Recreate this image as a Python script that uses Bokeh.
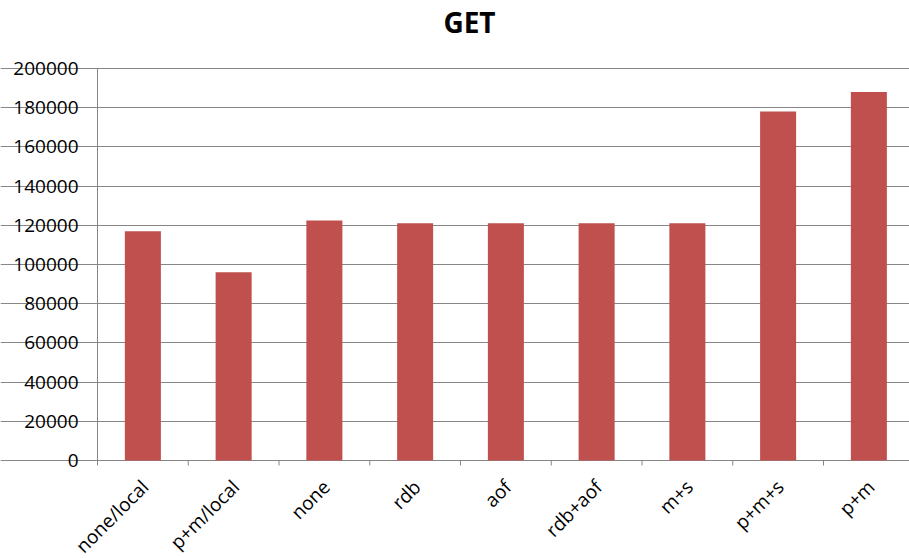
import math
from bokeh.plotting import figure
from bokeh.models import Range1d, FixedTicker, ColumnDataSource, Grid
from bokeh.embed import file_html
from bokeh.resources import INLINE

# GET throughput per persistence / replication setup
categories = ["none/local", "p+m/local", "none", "rdb", "aof", "rdb+aof", "m+s", "p+m+s", "p+m"]
get_values = [117000, 96000, 122500, 121000, 121000, 121000, 121000, 178000, 188000]
y_ticks = [0, 20000, 40000, 60000, 80000, 100000, 120000, 140000, 160000, 180000, 200000]
y_tick_labels = [str(v) for v in y_ticks]

FONT = "Open Sans"
BAR_COLOR = "#C0504D"
AXIS_COLOR = "#868686"

# page layout in pixels: the value area spans these edges, the rest holds text
W, H = 909, 558
AREA_LEFT, AREA_TOP, AREA_BOTTOM = 97, 68, 460
CAT_PX = 90.75                      # width of one category slot
Y_MAX = y_ticks[-1]
UNITS_PER_PX = Y_MAX / (AREA_BOTTOM - AREA_TOP)


def px_to_x(px):
    return (px - AREA_LEFT) / CAT_PX


def px_to_y(py):
    return (AREA_BOTTOM - py) * UNITS_PER_PX


centers = [i + 0.5 for i in range(len(categories))]
bounds = list(range(len(categories) + 1))
bars = ColumnDataSource(dict(x=centers, top=get_values))

p = figure(
    width=W, height=H,
    x_range=Range1d(px_to_x(0), px_to_x(W)), y_range=Range1d(px_to_y(H), px_to_y(0)),
    output_backend="svg", toolbar_location=None,
    x_axis_location=None, y_axis_location=None,
    min_border=0,
)
p.outline_line_color = None
p.background_fill_color = "white"
p.border_fill_color = "white"
for g in p.grid:
    g.visible = False

# horizontal gridlines (the one at 0 doubles as the category axis line);
# they start a few pixels left of the value axis to form its tick marks
grid = Grid(dimension=1, ticker=FixedTicker(ticks=y_ticks),
            bounds=(px_to_x(AREA_LEFT - 7), px_to_x(W)),
            grid_line_color=AXIS_COLOR, grid_line_width=1)
p.add_layout(grid)

# value axis line
p.segment(x0=[0], y0=[0], x1=[0], y1=[Y_MAX], line_color=AXIS_COLOR, line_width=1)

# category boundary tick marks below the axis
p.segment(x0=bounds, y0=[0] * len(bounds), x1=bounds, y1=[px_to_y(AREA_BOTTOM + 5)] * len(bounds),
          line_color=AXIS_COLOR, line_width=1)

p.vbar(x="x", top="top", bottom=0, width=0.397, source=bars,
       fill_color=BAR_COLOR, line_color=None)

# value tick labels
p.text(x=[0] * len(y_ticks), y=y_ticks, text=y_tick_labels, x_offset=-19,
       text_align="right", text_baseline="middle",
       text_font={"value": FONT}, text_font_size="19px", text_color="#000000")

# slanted category names
p.text(x=[c + px_to_x(AREA_LEFT + 2) for c in centers],
       y=[px_to_y(AREA_BOTTOM + 23)] * len(categories),
       text=categories, angle=math.pi / 4,
       text_align="right", text_baseline="middle",
       text_font={"value": FONT}, text_font_size="19px", text_color="#000000")

# chart title
p.text(x=[px_to_x(469)], y=[px_to_y(21)], text=["GET"],
       text_align="center", text_baseline="middle",
       text_font={"value": FONT}, text_font_size="28px", text_font_style="bold",
       text_color="#000000")

open("out.html", "w").write(file_html(p, INLINE))
